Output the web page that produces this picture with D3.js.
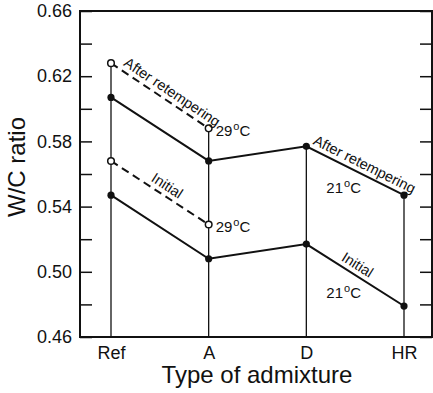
<!DOCTYPE html>
<html>
<head>
<script src="https://d3js.org/d3.v7.min.js"></script>
<style>
  body { margin: 0; background: #fff; font-family: "Liberation Sans", Arial, sans-serif; }
  svg text { fill: #111; }
</style>
</head>
<body>
<div id="chart"></div>
<script>
// data
const categories = ["Ref", "A", "D", "HR"];
const afterValues = [0.607, 0.568, 0.577, 0.547];      // after retempering, solid
const initialValues = [0.547, 0.508, 0.517, 0.479];    // initial, solid
const after29Cats = ["Ref", "A"];
const after29Values = [0.628, 0.588];                  // after retempering 29 C, dashed
const initial29Values = [0.568, 0.529];                // initial 29 C, dashed
const yTicks = [0.46, 0.48, 0.50, 0.52, 0.54, 0.56, 0.58, 0.60, 0.62, 0.64, 0.66];
const yLabeled = [0.46, 0.50, 0.54, 0.58, 0.62, 0.66];

const width = 433, height = 393;
const margin = { top: 11, right: 1, bottom: 56, left: 80 };

const svg = d3.select("#chart").append("svg")
    .attr("width", width)
    .attr("height", height);

const x = d3.scalePoint().domain(categories).range([111, 404]);
const y = d3.scaleLinear().domain([0.46, 0.66]).range([height - margin.bottom, margin.top]);

const right = width - margin.right;

// left axis
svg.append("g")
    .attr("transform", "translate(" + margin.left + ",0)")
    .call(d3.axisLeft(y).tickValues(yTicks).tickSize(-12).tickPadding(8)
        .tickFormat(d => yLabeled.some(v => Math.abs(v - d) < 1e-9) ? d3.format(".2f")(d) : ""))
    .call(g => g.select(".domain").remove())
    .call(g => g.selectAll("line").attr("stroke", "#111").attr("stroke-width", 1.5))
    .call(g => g.selectAll("text").attr("font-size", 18).attr("font-family", "Liberation Sans, Arial, sans-serif").attr("fill", "#111"));

// right axis
svg.append("g")
    .attr("transform", "translate(" + right + ",0)")
    .call(d3.axisRight(y).tickValues(yTicks).tickSize(-12).tickFormat(""))
    .call(g => g.select(".domain").remove())
    .call(g => g.selectAll("line").attr("stroke", "#111").attr("stroke-width", 1.5));

// bottom axis labels
svg.append("g")
    .attr("transform", "translate(0," + y(0.46) + ")")
    .call(d3.axisBottom(x).tickSize(0).tickPadding(9))
    .call(g => g.select(".domain").remove())
    .call(g => g.selectAll("text").attr("font-size", 18).attr("font-family", "Liberation Sans, Arial, sans-serif").attr("fill", "#111"));

// frame
svg.append("rect")
    .attr("x", margin.left)
    .attr("y", y(0.66))
    .attr("width", right - margin.left)
    .attr("height", y(0.46) - y(0.66))
    .attr("fill", "none")
    .attr("stroke", "#111")
    .attr("stroke-width", 2);

// vertical drop lines from highest point of each category
categories.forEach((c, i) => {
    let top = Math.max(afterValues[i], initialValues[i]);
    const j = after29Cats.indexOf(c);
    if (j >= 0) top = Math.max(top, after29Values[j], initial29Values[j]);
    svg.append("line")
        .attr("x1", x(c)).attr("x2", x(c))
        .attr("y1", y(top)).attr("y2", y(0.46))
        .attr("stroke", "#111")
        .attr("stroke-width", 1.3);
});

const line = d3.line().x(d => x(d[0])).y(d => y(d[1]));

function drawSeries(cats, vals, dashed, open) {
    const pts = cats.map((c, i) => [c, vals[i]]);
    svg.append("path")
        .attr("d", line(pts))
        .attr("fill", "none")
        .attr("stroke", "#111")
        .attr("stroke-width", 2)
        .attr("stroke-dasharray", dashed ? "8,5" : null);
    svg.selectAll(null).data(pts).enter().append("circle")
        .attr("cx", d => x(d[0]))
        .attr("cy", d => y(d[1]))
        .attr("r", open ? 3.3 : 3.6)
        .attr("fill", open ? "#fff" : "#111")
        .attr("stroke", "#111")
        .attr("stroke-width", open ? 1.5 : 0);
}

drawSeries(categories, afterValues, false, false);
drawSeries(categories, initialValues, false, false);
drawSeries(after29Cats, after29Values, true, true);
drawSeries(after29Cats, initial29Values, true, true);

// text along a segment
function slantLabel(c1, v1, c2, v2, t, off, txt) {
    const x1 = x(c1), y1 = y(v1), x2 = x(c2), y2 = y(v2);
    const ang = Math.atan2(y2 - y1, x2 - x1);
    const px = x1 + (x2 - x1) * t + Math.sin(ang) * off;
    const py = y1 + (y2 - y1) * t - Math.cos(ang) * off;
    svg.append("text")
        .attr("transform", "translate(" + px + "," + py + ") rotate(" + (ang * 180 / Math.PI) + ")")
        .attr("text-anchor", "middle")
        .attr("font-size", 14.5)
        .text(txt);
}

slantLabel("Ref", after29Values[0], "A", after29Values[1], 0.57, 5, "After retempering");
slantLabel("Ref", initial29Values[0], "A", initial29Values[1], 0.52, 5, "Initial");
slantLabel("D", afterValues[2], "HR", afterValues[3], 0.55, 5, "After retempering");
slantLabel("D", initialValues[2], "HR", initialValues[3], 0.47, 5, "Initial");

// temperature labels
function tempLabel(px, py, num) {
    const t = svg.append("text")
        .attr("x", px).attr("y", py)
        .attr("font-size", 15);
    t.append("tspan").text(num);
    t.append("tspan").attr("font-size", 11).attr("dy", -6).attr("dx", 1).text("o");
    t.append("tspan").attr("dy", 6).text("C");
}

tempLabel(x("A") + 7, y(after29Values[1]) + 8, "29");
tempLabel(x("A") + 7, y(initial29Values[1]) + 7, "29");
tempLabel(x("D") + 20, y(afterValues[2]) + 47, "21");
tempLabel(x("D") + 20, y(initialValues[2]) + 54, "21");

// axis titles
svg.append("text")
    .attr("transform", "translate(25," + 167 + ") rotate(-90)")
    .attr("text-anchor", "middle")
    .attr("font-size", 24)
    .text("W/C ratio");

svg.append("text")
    .attr("x", 257)
    .attr("y", 383)
    .attr("text-anchor", "middle")
    .attr("font-size", 24)
    .text("Type of admixture");
</script>
</body>
</html>
